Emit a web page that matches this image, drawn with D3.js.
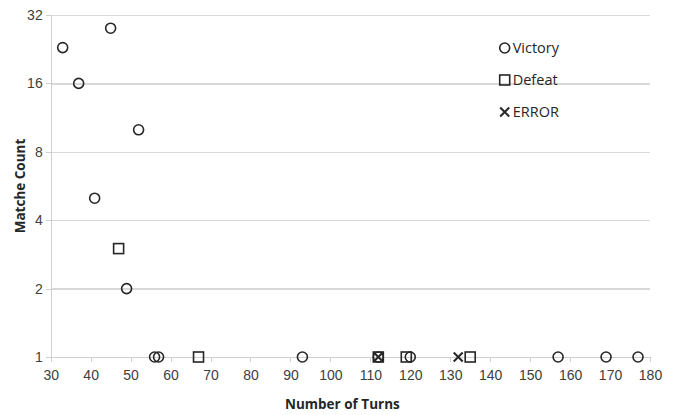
<!DOCTYPE html>
<meta charset="utf-8">
<html>
  <head>
    <title>Matche Count vs Number of Turns</title>
    <script src="https://d3js.org/d3.v7.min.js"></script>
    <style type="text/css">
      body{
        margin: 0;
        background: #fff;
        font-family: "Open Sans", "Liberation Sans", sans-serif;
      }
      .axis text{
        font-size: 14px;
        fill: #404040;
      }
      .axis path, .axis line{
        stroke: #d0d0d0;
        shape-rendering: crispEdges;
      }
      .grid line{
        stroke: #d9d9d9;
        stroke-width: 1.5;
        shape-rendering: crispEdges;
      }
      .grid path{ display: none; }
      .label{
        font-size: 13.5px;
        font-weight: bold;
        fill: #262626;
      }
      .legend text{
        font-size: 14.5px;
        fill: #262626;
      }
    </style>
  </head>
  <body>
    <div id="plot"></div>
  </body>

  <script>
    // data
    var victoryTurns = [33, 45, 37, 52, 41, 49, 56, 57, 93, 112, 120, 157, 169, 177];
    var victoryCount = [23, 28, 16, 10, 5, 2, 1, 1, 1, 1, 1, 1, 1, 1];
    var defeatTurns = [47, 67, 112, 119, 135];
    var defeatCount = [3, 1, 1, 1, 1];
    var errorTurns = [112, 132];
    var errorCount = [1, 1];
    var xTicks = [30, 40, 50, 60, 70, 80, 90, 100, 110, 120, 130, 140, 150, 160, 170, 180];
    var yTicks = [1, 2, 4, 8, 16, 32];
    var seriesNames = ["Victory", "Defeat", "ERROR"];

    var W = 681, H = 415;
    var margin = {top:15, right:31, bottom:58, left:50.7},
        width = W - margin.left - margin.right,
        height = H - margin.top - margin.bottom;

    var svg = d3.select("#plot").append("svg")
        .attr("width", W)
        .attr("height", H)
      .append("g")
        .attr("transform","translate("+margin.left+","+margin.top+")");

    var xScale = d3.scaleLinear().domain([30, 180]).range([0, width]);
    var yScale = d3.scaleLog().base(2).domain([1, 32]).range([height, 0]);

    // horizontal grid
    svg.append("g")
       .attr("class","grid")
       .call(d3.axisLeft(yScale).tickValues(yTicks.slice(1)).tickSize(-width).tickFormat(""));

    // y axis
    svg.append("g")
       .attr("class","y axis")
       .call(d3.axisLeft(yScale).tickValues(yTicks).tickFormat(d3.format("d")).tickSize(5).tickSizeOuter(0).tickPadding(3));

    // x axis
    svg.append("g")
       .attr("class","x axis")
       .attr("transform","translate(0,"+height+")")
       .call(d3.axisBottom(xScale).tickValues(xTicks).tickSize(5).tickSizeOuter(0).tickPadding(8));

    svg.append("text")
       .attr("class","label")
       .attr("transform","rotate(-90)")
       .attr("x",-height/2)
       .attr("y",-margin.left+25)
       .style("text-anchor","middle")
       .text("Matche Count");

    svg.append("text")
       .attr("class","label")
       .attr("x",width/2-8)
       .attr("y",height+52)
       .style("text-anchor","middle")
       .text("Number of Turns");

    var ink = "#262626";
    var sw = 1.6;

    function drawCircle(g){
      g.append("circle").attr("r",5).style("fill","none").style("stroke",ink).style("stroke-width",sw);
    }
    function drawSquare(g){
      g.append("rect").attr("x",-5).attr("y",-5).attr("width",10).attr("height",10)
       .style("fill","none").style("stroke",ink).style("stroke-width",sw);
    }
    function drawCross(g){
      g.append("path").attr("d","M-4.5,-4.5L4.5,4.5M-4.5,4.5L4.5,-4.5")
       .style("fill","none").style("stroke",ink).style("stroke-width",2);
    }
    var drawers = [drawCircle, drawSquare, drawCross];

    function plotSeries(xs, ys, drawFn){
      var pts = xs.map(function(x,i){ return {x:x, y:ys[i]}; });
      svg.selectAll(null)
         .data(pts)
         .enter().append("g")
         .attr("transform",function(d){ return "translate("+xScale(d.x)+","+yScale(d.y)+")"; })
         .each(function(){ drawFn(d3.select(this)); });
    }

    plotSeries(victoryTurns, victoryCount, drawCircle);
    plotSeries(defeatTurns, defeatCount, drawSquare);
    plotSeries(errorTurns, errorCount, drawCross);

    // legend
    var legend = svg.selectAll(".legend")
       .data(seriesNames)
       .enter().append("g")
       .attr("class","legend")
       .attr("transform",function(d,i){ return "translate(454,"+(33+i*32)+")"; });

    legend.each(function(d,i){ drawers[i](d3.select(this)); });

    legend.append("text")
       .attr("x",8)
       .attr("y",0)
       .attr("dy",".35em")
       .text(function(d){ return d; });
  </script>
</html>
